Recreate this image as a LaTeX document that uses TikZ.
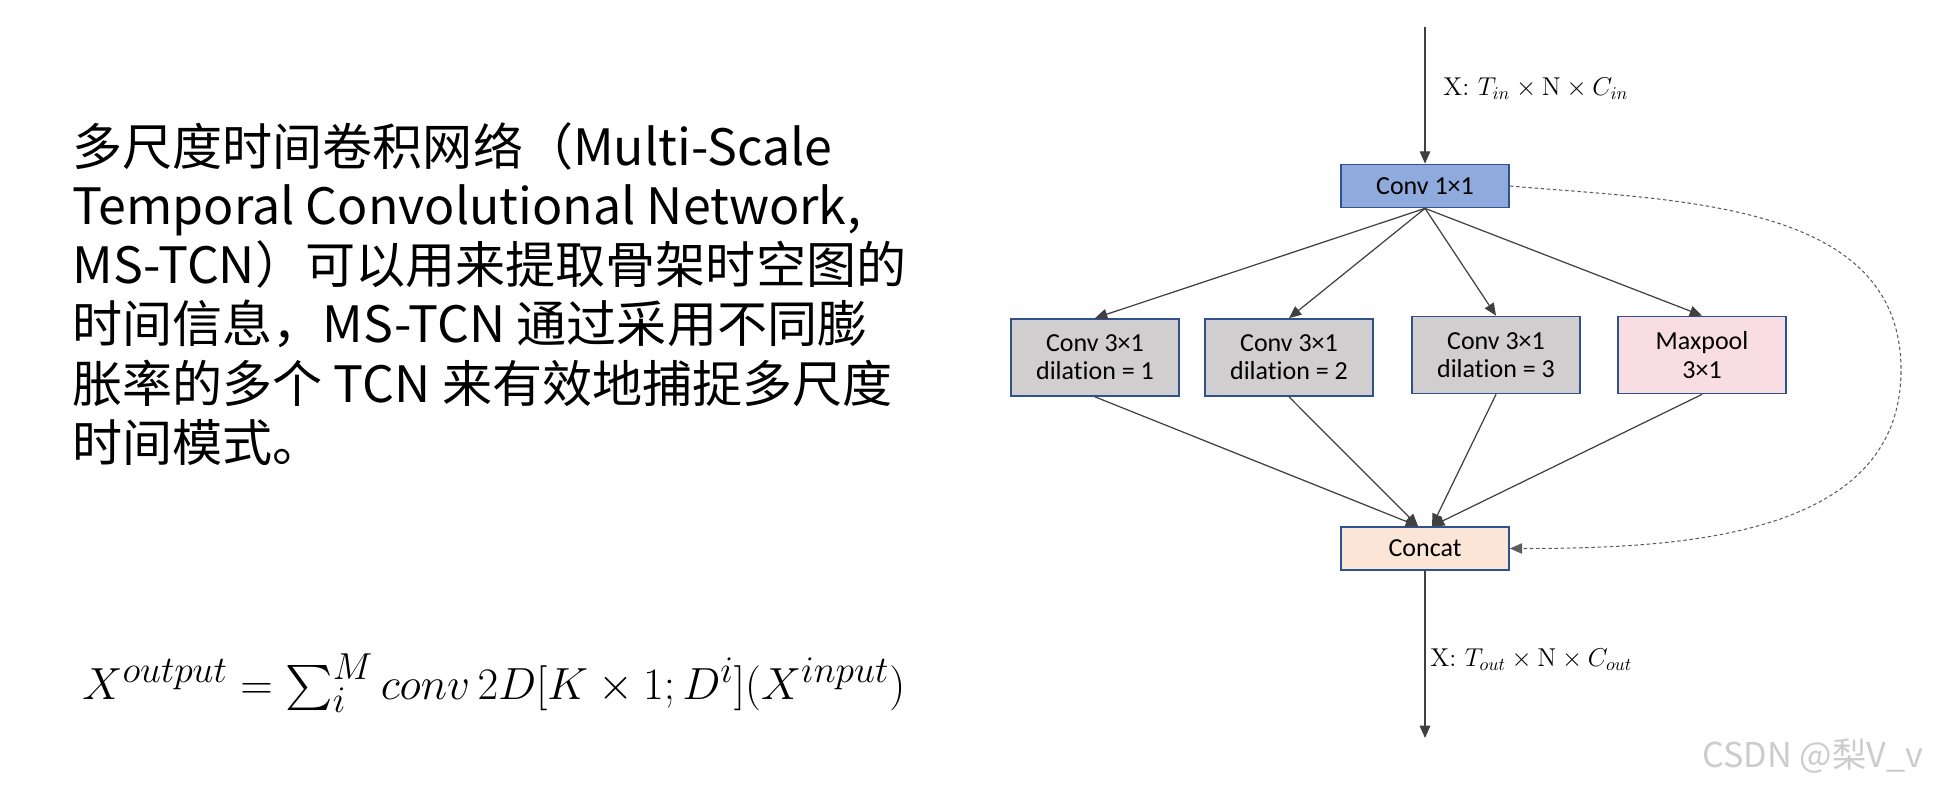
\documentclass[tikz,border=0pt]{standalone}
\usepackage{fontspec}
\usepackage{amsmath}
\usepackage{tikz}
\usetikzlibrary{arrows.meta}
\newfontfamily\cjk{Noto Sans CJK SC}
\newfontfamily\boxfont{Carlito}[Ligatures=NoCommon]
\definecolor{convblue}{RGB}{143,170,220}
\definecolor{edgeblue}{RGB}{47,82,143}
\definecolor{dilgray}{RGB}{208,206,206}
\definecolor{poolpink}{RGB}{248,221,226}
\definecolor{catpeach}{RGB}{251,229,214}
\definecolor{darkline}{RGB}{64,64,64}

\begin{document}
\begin{tikzpicture}[
  box/.style={draw=edgeblue,line width=1pt,minimum width=3.36cm,align=center,
    font=\boxfont\fontsize{14.8}{16}\selectfont},
  arr/.style={-{Triangle[length=7pt,width=6pt]},darkline,line width=0.7pt},
  dim/.style={anchor=west,inner sep=0pt,scale=1.02,font=\fontsize{14.4}{17}\selectfont}]
  \useasboundingbox (0,0) rectangle (38.72,15.72);
  % left: description and formula
  \foreach \l [count=\i] in {
    多尺度时间卷积网络（Multi-Scale,
    {Temporal Convolutional Network,},
    MS-TCN）可以用来提取骨架时空图的,
    时间信息，MS-TCN 通过采用不同膨,
    胀率的多个 TCN 来有效地捕捉多尺度,
    时间模式。}{
    \node[anchor=base west,inner sep=0pt,font=\cjk\fontsize{28.5}{34}\selectfont]
      (line\i) at (1.44,{12.42-(\i-1)*1.186}) {\l};
  }
  \node[anchor=base west,inner sep=0pt,scale=1.03,font=\fontsize{24.88}{30}\selectfont]
    (formula) at (1.64,1.74) {$X^{output}=\sum_i^M conv\,2D[K\times 1;D^i](X^{input})$};
  % right: MS-TCN block
  \node[box,fill=convblue,minimum height=0.86cm] (conv1) at (28.50,12.00) {Conv 1×1};
  \foreach \i/\x/\y/\c/\t in {
    1/21.90/8.57/dilgray/{Conv 3×1\\dilation = 1},
    2/25.78/8.57/dilgray/{Conv 3×1\\dilation = 2},
    3/29.92/8.62/dilgray/{Conv 3×1\\dilation = 3},
    4/34.04/8.62/poolpink/{Maxpool\\3×1}}{
    \node[box,fill=\c,minimum height=1.54cm] (b\i) at (\x,\y) {\t};
  }
  \node[box,fill=catpeach,minimum height=0.86cm] (concat) at (28.50,4.75) {Concat};
  \coordinate (inp) at (28.50,15.18);
  \coordinate (outp) at (28.50,0.96);
  \coordinate (bend) at (38.02,8.32);
  \draw[arr] (inp) -- (conv1.north);
  \draw[arr] (concat.south) -- (outp);
  \node[dim] (inlab) at (28.86,13.94) {X: $T_{in}\times\mathrm{N}\times C_{in}$};
  \node[dim] (outlab) at (28.60,2.52) {X: $T_{out}\times\mathrm{N}\times C_{out}$};
  \foreach \i in {1,...,4}{
    \draw[arr] (conv1.south) -- (b\i.north);
  }
  \foreach \i/\s in {1/-0.14,2/-0.14,3/0.14,4/0.14}{
    \draw[arr] (b\i.south) -- ([xshift=\s cm]concat.north);
  }
  \draw[arr,darkline!85,dash pattern=on 2pt off 1.5pt,line width=0.6pt]
    (conv1.east) to[out=-5,in=90] (bend) to[out=-90,in=0] (concat.east);
  % watermark
  \node[anchor=base west,inner sep=0pt,gray!40,font=\cjk\fontsize{19.5}{22}\selectfont]
    (mark) at (34.04,0.38) {CSDN @梨V\_v};
\end{tikzpicture}
\end{document}
